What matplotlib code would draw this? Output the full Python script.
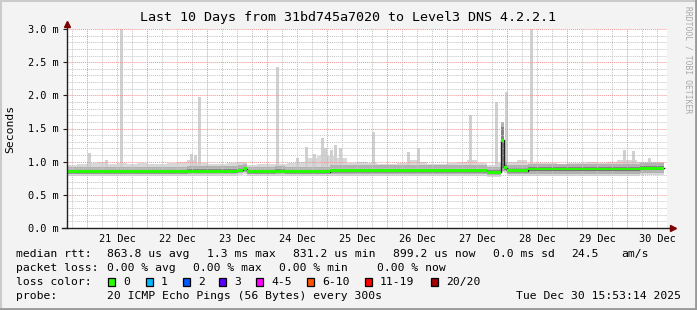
import numpy as np
import matplotlib
matplotlib.use('Agg')
import matplotlib.pyplot as plt
from matplotlib.lines import Line2D
from matplotlib.patches import Rectangle

# hours since graph start (Sat Dec 20 15:53:14 2025), values in ms
seg_start = [0, 48, 68.4, 70.4, 72, 83.2, 87.2, 105.2, 168, 173.6, 174.6, 176, 184.4, 229.2]
seg_end = 238.8
seg_min = [0.78, 0.79, 0.80, 0.82, 0.78, 0.79, 0.78, 0.79, 0.77, 0.84, 0.83, 0.79, 0.79, 0.80]
seg_p10 = [0.81, 0.82, 0.83, 0.85, 0.81, 0.82, 0.81, 0.82, 0.80, 0.86, 0.86, 0.82, 0.82, 0.83]
seg_q1 = [0.83, 0.84, 0.85, 0.875, 0.83, 0.84, 0.83, 0.845, 0.82, 0.90, 0.88, 0.845, 0.86, 0.87]
seg_median = [0.845, 0.855, 0.87, 0.895, 0.845, 0.855, 0.845, 0.86, 0.84, 1.32, 0.91, 0.865, 0.89, 0.90]
seg_q3 = [0.88, 0.89, 0.905, 0.925, 0.88, 0.89, 0.88, 0.895, 0.875, 1.52, 0.95, 0.905, 0.925, 0.935]
seg_p90 = [0.925, 0.935, 0.945, 0.96, 0.925, 0.935, 0.925, 0.945, 0.915, 1.60, 1.00, 0.955, 0.97, 0.975]

# upper edge of the light smoke, 4 hour bins from 16:00
bin_first = 0.12
bin_hours = 4.0
bin_max = [0.95, 0.97, 0.98, 1.00, 0.97, 0.98, 0.96, 0.98, 0.97, 0.97,
           0.98, 1.00, 1.02, 0.98, 0.96, 0.97, 0.98, 1.00, 0.95, 0.96,
           0.97, 0.96, 0.98, 1.00, 1.05, 1.08, 1.08, 1.05, 0.98, 1.00,
           0.98, 0.97, 0.97, 0.98, 1.02, 1.00, 0.97, 0.97, 0.98, 1.00,
           1.02, 0.98, 0.95, 0.98, 1.00, 1.02, 0.98, 0.98, 0.98, 0.97,
           0.98, 0.98, 1.00, 0.98, 1.00, 1.03, 1.02, 1.00, 1.00, 1.00]

# single-sample outliers (start hour, top in ms)
spike_t = [8.4, 15.2, 21.2, 49.2, 50.8, 52.4, 83.6, 91.6, 95.2, 98.4, 101.6, 102.8,
           105.2, 106.8, 108.8, 122.0, 136.0, 140.0, 160.8, 171.2, 175.2, 185.2,
           222.4, 226.0, 232.4]
spike_top = [1.13, 1.03, 3.05, 1.12, 1.10, 1.98, 2.43, 1.05, 1.22, 1.12, 1.35, 1.20,
             1.18, 1.25, 1.20, 1.45, 1.15, 1.20, 1.70, 1.90, 2.05, 3.05,
             1.18, 1.16, 1.05]

title = "Last 10 Days from 31bd745a7020 to Level3 DNS 4.2.2.1"
day_labels = ["21 Dec", "22 Dec", "23 Dec", "24 Dec", "25 Dec",
              "26 Dec", "27 Dec", "28 Dec", "29 Dec", "30 Dec"]
first_midnight = 8.1128  # Dec 21 00:00 in hours since start

loss_labels = ["0", "1", "2", "3", "4-5", "6-10", "11-19", "20/20"]
loss_colors = ["#26ff00", "#00b8ff", "#0059ff", "#5e00ff", "#ff00ff", "#ff5500", "#ff0000", "#a00000"]

W, H = 697, 310
MONO = "DejaVu Sans Mono"


def fx(x):
    return x / W


def fy(y):
    return 1 - y / H


def step_eval(starts, vals, grid):
    idx = np.searchsorted(starts, grid, side='right') - 1
    return np.asarray(vals)[np.clip(idx, 0, len(vals) - 1)]


fig = plt.figure(figsize=(W / 100, H / 100), dpi=100)
fig.patch.set_facecolor('#F3F3F3')
ax = fig.add_axes([fx(67), fy(228), 600 / W, 199 / H])
ax.set_facecolor('white')
ax.set_xlim(0, 240)
ax.set_ylim(0, 3.0)

edges = np.append(seg_start, seg_end)
bin_edges = bin_first + bin_hours * np.arange(len(bin_max) + 1)
bin_edges[-1] = seg_end
grid = np.unique(np.concatenate([edges, bin_edges]))
g_min = step_eval(seg_start, seg_min, grid)
g_max = np.maximum(step_eval(bin_edges[:-1], bin_max, grid), step_eval(seg_start, seg_p90, grid))
g_min[-1] = g_min[-2]
g_max[-1] = g_max[-2]
ax.fill_between(grid, g_min, g_max, step='post', color='#D8D8D8', lw=0, zorder=1)

for t, top in zip(spike_t, spike_top):
    ax.bar(t, top - 0.9, bottom=0.9, width=1.1, align='edge', color='#D0D0D0', lw=0, zorder=1)


def seg_fill(lo, hi, color, z):
    lo = np.append(lo, lo[-1])
    hi = np.append(hi, hi[-1])
    ax.fill_between(edges, lo, hi, step='post', color=color, lw=0, zorder=z)


seg_fill(seg_p10, seg_p90, '#B2B2B2', 2)
seg_fill(seg_q1, seg_q3, '#858585', 2.5)

# grid
for k in range(0, 41):
    h = first_midnight - 6 + 6 * k
    if 0 < h < 240:
        major = (k - 1) % 4 == 0
        ax.axvline(h, color='#F39090' if major else '#C4C4C4', lw=0.7,
                   ls=(0, (1, 1)), zorder=3)
for v in np.arange(0.1, 3.01, 0.1):
    major = abs(v / 0.5 - round(v / 0.5)) < 1e-6
    ax.axhline(v, color='#F39090' if major else '#C4C4C4', lw=0.7,
               ls=(0, (1, 1)), zorder=3)

med = np.append(seg_median, seg_median[-1])
ax.step(edges, med, where='post', color='#202020', lw=1.0, zorder=4)
ax.fill_between(edges, med - 0.022, med + 0.022, step='post', color=loss_colors[0], lw=0, zorder=5)

for s in ax.spines.values():
    s.set_visible(False)
ax.set_xticks([first_midnight + 12 + 24 * i for i in range(10)])
ax.set_xticklabels(day_labels, fontfamily=MONO, fontsize=7.4)
ax.set_yticks(np.arange(0, 3.01, 0.5))
ax.set_yticklabels(["%.1f m" % v for v in np.arange(0, 3.01, 0.5)], fontfamily=MONO, fontsize=7.4)
ax.tick_params(axis='x', length=0, pad=4)
ax.tick_params(axis='y', length=3, direction='out', color='#202020', width=0.8, pad=3)

# axes with arrows
ax.plot([0, 0], [0, 3.1], color='#202020', lw=1, clip_on=False, zorder=6)
ax.plot([-2, 241], [0, 0], color='#202020', lw=1, clip_on=False, zorder=6)
ax.plot([0], [3.08], marker='^', color='#7F0000', ms=4, clip_on=False, zorder=7)
ax.plot([242.2], [0], marker='>', color='#7F0000', ms=4, clip_on=False, zorder=7)

fig.text(fx(348.5), fy(18), title, ha='center', va='center', fontfamily=MONO, fontsize=9.6)
fig.text(fx(10), fy(128.5), "Seconds", rotation=90, ha='center', va='center', fontfamily=MONO, fontsize=8.2)
fig.text(fx(688), fy(60), "RRDTOOL / TOBI OETIKER", rotation=270, ha='center', va='center',
         fontfamily=MONO, fontsize=5.8, color='#A8A8A8')

leg = dict(fontfamily=MONO, fontsize=8.2, va='center', ha='left')
rows = [
    (254, [(16, "median rtt:"), (107, "863.8 us avg"), (207, "1.3 ms max"), (293, "831.2 us min"),
           (393, "899.2 us now"), (493, "0.0 ms sd"), (571, "24.5"), (621, "am/s")]),
    (268, [(16, "packet loss:"), (107, "0.00 % avg"), (193, "0.00 % max"), (279, "0.00 % min"),
           (377, "0.00 % now")]),
    (282, [(16, "loss color:")]),
    (296, [(16, "probe:"), (107, "20 ICMP Echo Pings (56 Bytes) every 300s")]),
]
for y, items in rows:
    for x, s in items:
        fig.text(fx(x), fy(y), s, **leg)
fig.text(fx(681), fy(296), "Tue Dec 30 15:53:14 2025", fontfamily=MONO, fontsize=8.2, va='center', ha='right')

box_x = [108, 146, 183, 219, 256, 307, 365, 431]
for bx, lab, col in zip(box_x, loss_labels, loss_colors):
    fig.add_artist(Rectangle((fx(bx), fy(286)), 7 / W, 8 / H, transform=fig.transFigure,
                             facecolor=col, edgecolor='black', lw=0.9))
    fig.text(fx(bx + 15), fy(282), lab, **leg)

# 3D frame
fig.add_artist(Line2D([0, 1], [fy(0.5), fy(0.5)], transform=fig.transFigure, color='#CBCBCB', lw=1.5))
fig.add_artist(Line2D([fx(0.5), fx(0.5)], [0, 1], transform=fig.transFigure, color='#CBCBCB', lw=1.5))
fig.add_artist(Line2D([0, 1], [fy(309), fy(309)], transform=fig.transFigure, color='#999999', lw=2))
fig.add_artist(Line2D([fx(696), fx(696)], [0, 1], transform=fig.transFigure, color='#999999', lw=2))

fig.savefig("out.png", dpi=100, facecolor=fig.get_facecolor())
